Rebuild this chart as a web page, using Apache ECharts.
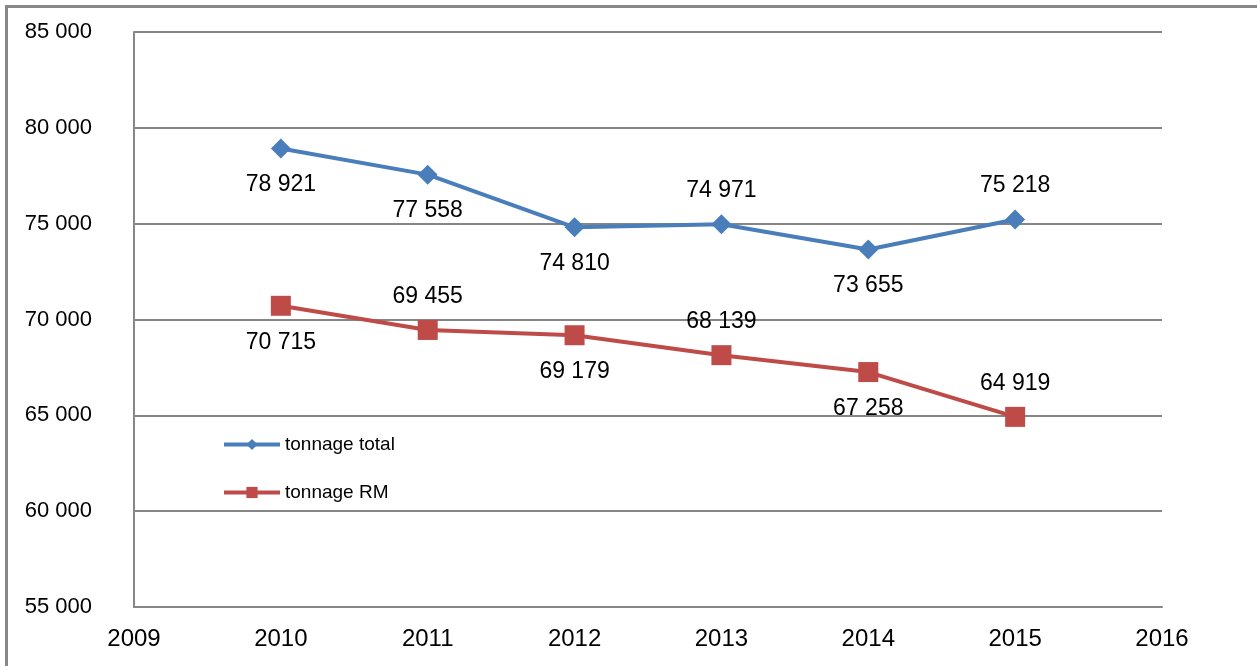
<!DOCTYPE html>
<html>
<head>
<meta charset="utf-8">
<script src="https://cdn.jsdelivr.net/npm/echarts@6/dist/echarts.min.js"></script>
<style>
html,body{margin:0;padding:0;background:#fff;}
#c{width:1257px;height:666px;}
</style>
</head>
<body>
<div id="c"></div>
<script>
var years = [2010, 2011, 2012, 2013, 2014, 2015];
var tonnageTotal = [78921, 77558, 74810, 74971, 73655, 75218];
var tonnageRM = [70715, 69455, 69179, 68139, 67258, 64919];
var totalLabelSide = ['bottom', 'bottom', 'bottom', 'top', 'bottom', 'top'];
var rmLabelSide = ['bottom', 'top', 'bottom', 'top', 'bottom', 'top'];

function fmt(v) {
  return String(Math.round(v)).replace(/\B(?=(\d{3})+(?!\d))/g, ' ');
}
function build(vals, sides) {
  return years.map(function (y, i) {
    return {
      value: [y, vals[i]],
      label: { position: sides[i], distance: sides[i] === 'top' ? 12 : 15 }
    };
  });
}

var chart = echarts.init(document.getElementById('c'));
var font = 'Liberation Sans, Arial, sans-serif';
chart.setOption({
  backgroundColor: '#ffffff',
  animation: false,
  graphic: [{
    type: 'rect',
    shape: { x: 6.5, y: 6.5, width: 1300, height: 700 },
    style: { fill: 'none', stroke: '#888888', lineWidth: 3 },
    silent: true
  }],
  grid: { left: 134, right: 95, top: 32, bottom: 59 },
  legend: {
    orient: 'vertical',
    left: 217,
    top: 430,
    itemWidth: 56,
    itemHeight: 14,
    itemGap: 29,
    lineStyle: { width: 4 },
    textStyle: { fontFamily: font, fontSize: 19, color: '#000' },
    data: ['tonnage total', 'tonnage RM']
  },
  xAxis: {
    type: 'value',
    min: 2009,
    max: 2016,
    interval: 1,
    axisLine: { show: true, lineStyle: { color: '#868686', width: 2 } },
    axisTick: { show: false },
    splitLine: { show: false },
    axisLabel: { color: '#000', fontFamily: font, fontSize: 24, margin: 20, formatter: function (v) { return String(v); } }
  },
  yAxis: {
    type: 'value',
    min: 55000,
    max: 85000,
    interval: 5000,
    axisLine: { show: true, lineStyle: { color: '#868686', width: 2 } },
    axisTick: { show: false },
    splitLine: { show: true, lineStyle: { color: '#868686', width: 2 } },
    axisLabel: { color: '#000', fontFamily: font, fontSize: 22, margin: 42, formatter: fmt }
  },
  series: [{
    name: 'tonnage total',
    type: 'line',
    data: build(tonnageTotal, totalLabelSide),
    symbol: 'diamond',
    symbolSize: 20,
    lineStyle: { color: '#4A7EBB', width: 4 },
    itemStyle: { color: '#4A7EBB' },
    label: { show: true, color: '#000', fontFamily: font, fontSize: 23, formatter: function (p) { return fmt(p.value[1]); } },
    z: 3
  }, {
    name: 'tonnage RM',
    type: 'line',
    data: build(tonnageRM, rmLabelSide),
    symbol: 'rect',
    symbolSize: 20,
    lineStyle: { color: '#BE4B48', width: 4 },
    itemStyle: { color: '#BE4B48' },
    label: { show: true, color: '#000', fontFamily: font, fontSize: 23, formatter: function (p) { return fmt(p.value[1]); } },
    z: 3
  }]
});
</script>
</body>
</html>
